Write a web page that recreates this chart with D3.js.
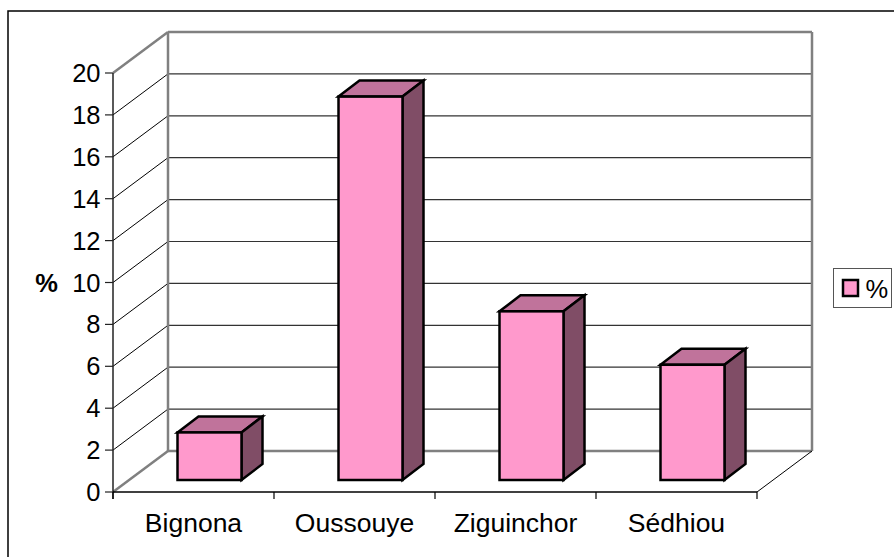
<!DOCTYPE html>
<html><head><meta charset="utf-8">
<script src="https://cdn.jsdelivr.net/npm/d3@7"></script>
<style>html,body{margin:0;background:#fff;overflow:hidden}svg{display:block}text{font-family:"Liberation Sans",Arial,sans-serif;fill:#000}</style>
</head><body><script>
const categories = ["Bignona","Oussouye","Ziguinchor","Sédhiou"];
const values = [2.27,18.3,8.05,5.5];
const yTicks = [0,2,4,6,8,10,12,14,16,18,20];
const seriesName = "%";
const axisTitle = "%";

const W=894,H=557;
const svg=d3.select("body").append("svg").attr("width",W).attr("height",H);
svg.append("rect").attr("x",8).attr("y",11).attr("width",W+10).attr("height",H+10).attr("fill","#fff").attr("stroke","#000").attr("stroke-width",1.5);

const x=d3.scaleBand().domain(categories).range([113,757]);
const y=d3.scaleLinear().domain([0,20]).range([492,73]);
const dx=55,dy=-41;
const grey="#808080";

const line=(x1,y1,x2,y2,c,w)=>svg.append("line").attr("x1",x1).attr("y1",y1).attr("x2",x2).attr("y2",y2).attr("stroke",c).attr("stroke-width",w);

// walls
yTicks.forEach(t=>{
  const yy=y(t);
  if(t>0&&t<20) line(x.range()[0]+dx,yy+dy,x.range()[1]+dx,yy+dy,"#333",1.2);
  if(t>0&&t<20) line(x.range()[0],yy,x.range()[0]+dx,yy+dy,"#000",1);
  line(x.range()[0]-8,yy,x.range()[0],yy,"#222",1.2);
});
const x0=x.range()[0],x1=x.range()[1],y0=y(0),yT=y(20);
line(x0+dx,yT+dy,x1+dx,yT+dy,grey,2.5);
line(x0+dx,y0+dy,x1+dx,y0+dy,grey,2.5);
line(x0+dx,yT+dy,x0+dx,y0+dy,grey,2.5);
line(x1+dx,yT+dy,x1+dx,y0+dy,grey,2.5);
line(x0,yT,x0+dx,yT+dy,grey,2.5);
line(x0,y0,x0+dx,y0+dy,grey,2.5);
line(x0,yT,x0,y0+7,"#222",1.5);
line(x1,y0,x1+dx,y0+dy,"#000",1);
line(x0,y0,x1,y0,"#000",1.5);
categories.forEach(c=>line(x(c),y0,x(c),y0+7,"#000",1.2));
line(x1,y0,x1,y0+7,"#000",1.2);

// bars
const bd={dx:21,dy:-16,ox:16,oy:-12,w:64};
const g=svg.append("g").attr("stroke","#000").attr("stroke-width",2.5).attr("stroke-linejoin","miter");
categories.forEach((c,i)=>{
  const cx=x(c)+x.bandwidth()/2+bd.ox, l=cx-bd.w/2, r=cx+bd.w/2;
  const b=y(0)+bd.oy;
  const top=b-(y(0)-y(values[i]));
  const p=a=>a.map(q=>q.join(",")).join(" ");
  g.append("polygon").attr("points",p([[l,top],[r,top],[r+bd.dx,top+bd.dy],[l+bd.dx,top+bd.dy]])).attr("fill","#c0739b");
  g.append("polygon").attr("points",p([[r,top],[r+bd.dx,top+bd.dy],[r+bd.dx,b+bd.dy],[r,b]])).attr("fill","#804d66");
  g.append("rect").attr("x",l).attr("y",top).attr("width",bd.w).attr("height",b-top).attr("fill","#ff99cc");
});

// labels
const fs=25.5, fsCat=26.5;
yTicks.forEach(t=>svg.append("text").attr("x",100.5).attr("y",y(t)+9).attr("text-anchor","end").attr("font-size",fs).text(t));
categories.forEach(c=>svg.append("text").attr("x",x(c)+x.bandwidth()/2).attr("y",531.5).attr("text-anchor","middle").attr("font-size",fsCat).text(c));
svg.append("text").attr("x",46.5).attr("y",292).attr("text-anchor","middle").attr("font-size",fs).attr("font-weight","bold").text(axisTitle);

// legend
svg.append("rect").attr("x",833.5).attr("y",268.5).attr("width",58).attr("height",39).attr("fill","#fff").attr("stroke","#555").attr("stroke-width",1);
svg.append("rect").attr("x",843).attr("y",280).attr("width",15).attr("height",16).attr("fill","#ff99cc").attr("stroke","#000").attr("stroke-width",2.5);
svg.append("text").attr("x",865.5).attr("y",298).attr("font-size",fs).text(seriesName);
</script></body></html>
